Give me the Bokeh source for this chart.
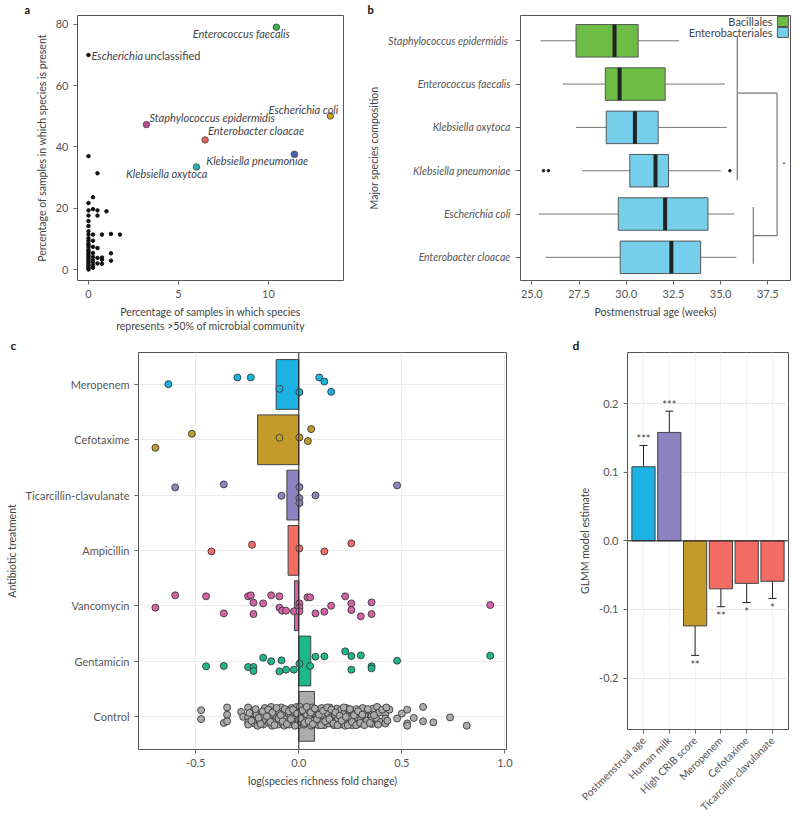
import math
from bokeh.plotting import figure
from bokeh.models import Range1d, FixedTicker, Whisker, Span, TeeHead, ColumnDataSource, NumeralTickFormatter
from bokeh.layouts import row, column
from bokeh.embed import file_html
from bokeh.resources import INLINE
from bokeh.core.properties import value

FONT = "Lato"
TXT = "#444444"

# ---------------- panel a data ----------------
a_species = ["Enterococcus faecalis", "Escherichia coli", "Staphylococcus epidermidis",
             "Enterobacter cloacae", "Klebsiella pneumoniae", "Klebsiella oxytoca"]
a_dominant = [10.44, 13.44, 3.22, 6.48, 11.44, 6.0]
a_present = [79.1, 50.1, 47.3, 42.3, 37.6, 33.5]
a_colors = ["#3fae49", "#c8a22a", "#c0498f", "#e8625d", "#4562b0", "#26b3ad"]
a_lab_align = ["center", "right", "left", "left", "right", "right"]
a_lab_dx = [-35, 8, 3, 3, 14, 11]
a_lab_dy = [6, -7, -7, -9, 6, 7]

other_dominant = [0, 0, 0, 0, 0, 0, 0, 0, 0, 0, 0, 0, 0, 0, 0, 0, 0, 0, 0, 0, 0, 0, 0, 0, 0, 0, 0,
                  0.25, 0.25, 0.25, 0.25, 0.25, 0.25, 0.25, 0.25, 0.25, 0.25, 0.25,
                  0.5, 0.5, 0.5, 0.5, 0.5, 0.5,
                  0.75, 0.75, 0.75, 0.75, 1.0, 1.25, 1.25, 1.25, 1.75]
other_present = [37.0, 21.7, 19.3, 17.6, 15.8, 14.2, 12.5, 11.4, 10.2, 9.4, 8.5, 8.0, 7.4, 6.5, 6.0,
                 5.5, 4.9, 4.4, 3.8, 3.3, 2.7, 2.2, 1.6, 1.1, 0.5, 0.0, 70.0,
                 23.6, 19.7, 11.4, 9.4, 7.4, 5.4, 4.1, 3.0, 2.4, 1.3, 0.55,
                 31.4, 19.3, 17.6, 7.0, 3.8, 2.0,
                 11.4, 3.9, 3.2, 1.9, 19.0, 11.6, 5.3, 2.9, 11.4]

# ---------------- panel b data ----------------
b_species = ["Staphylococcus  epidermidis", "Enterococcus faecalis", "Klebsiella oxytoca",
             "Klebsiella pneumoniae", "Escherichia coli", "Enterobacter cloacae"]
b_order = ["Bacillales", "Bacillales", "Enterobacteriales", "Enterobacteriales",
           "Enterobacteriales", "Enterobacteriales"]
b_low = [25.46, 26.64, 27.34, 27.66, 25.37, 25.72]
b_q1 = [27.34, 28.89, 28.94, 30.19, 29.58, 29.68]
b_med = [29.38, 29.65, 30.46, 31.55, 32.06, 32.39]
b_q3 = [30.63, 32.06, 31.69, 32.24, 34.33, 33.94]
b_high = [32.8, 35.23, 35.32, 35.0, 35.72, 35.83]
b_out_row = [4, 4, 4]
b_out_val = [25.62, 25.88, 35.49]
order_colors = {"Bacillales": "#6dbd45", "Enterobacteriales": "#75cfea"}

# ---------------- panel c data ----------------
c_treat = ["Meropenem", "Cefotaxime", "Ticarcillin-clavulanate", "Ampicillin",
           "Vancomycin", "Gentamicin", "Control"]
c_mean = [-0.11, -0.20, -0.058, -0.052, -0.021, 0.058, 0.076]
c_colors = ["#1bb1e3", "#c39b2b", "#8e82c1", "#f26c64", "#d462a6", "#1db78b", "#ababab"]
mero_x = [-0.633, -0.298, -0.233, -0.094, 0.003, 0.099, 0.124, 0.157]
mero_j = [-0.006, -0.127, -0.127, 0.078, 0.139, -0.127, -0.054, 0.133]
cefo_x = [-0.696, -0.519, -0.094, 0.003, 0.060, 0.044]
cefo_j = [0.145, -0.108, -0.036, -0.042, -0.193, 0.024]
tica_x = [-0.600, -0.364, -0.084, 0.003, 0.003, 0.003, 0.081, 0.477]
tica_j = [-0.139, -0.193, 0.012, -0.145, 0.054, 0.145, 0.006, -0.175]
ampi_x = [-0.424, -0.227, 0.003, 0.124, 0.255]
ampi_j = [0.018, -0.102, -0.036, 0.018, -0.127]
vanc_x = [-0.696, -0.600, -0.450, -0.364, -0.246, -0.233, -0.220, -0.220, -0.173, -0.134,
          -0.094, -0.094, -0.081, -0.062, -0.024, 0.003, 0.003, 0.003, 0.042, 0.055,
          0.081, 0.124, 0.157, 0.225, 0.255, 0.255, 0.301, 0.353, 0.353, 0.929]
vanc_j = [0.036, -0.187, -0.169, 0.139, -0.169, -0.187, -0.054, 0.151, -0.042, -0.187,
          -0.169, 0.036, 0.090, 0.090, 0.102, -0.042, 0.036, 0.102, -0.151, -0.151,
          0.139, 0.108, 0.0, -0.169, -0.042, 0.078, 0.193, -0.060, 0.151, -0.012]
gent_x = [-0.450, -0.364, -0.246, -0.220, -0.220, -0.173, -0.134, -0.094, -0.084, -0.062,
          -0.024, 0.003, 0.055, 0.081, 0.124, 0.225, 0.255, 0.255, 0.301, 0.353, 0.353,
          0.477, 0.929]
gent_j = [0.096, 0.090, 0.108, 0.108, 0.181, -0.060, 0.006, 0.187, -0.012, 0.157,
          0.157, 0.048, 0.090, -0.078, -0.084, -0.175, -0.090, 0.157, -0.102, 0.096, 0.133,
          -0.006, -0.096]
control_pts = [
    (-0.474, -0.11), (-0.474, 0.05), (-0.364, 0.12), (-0.348, -0.16), (-0.348, -0.03), (-0.348, 0.09),
    (-0.28, -0.08), (-0.27, 0.01), (-0.246, -0.16), (-0.246, 0.02), (-0.246, 0.11), (-0.246, 0.15),
    (-0.22, -0.10), (-0.22, 0.06), (-0.215, 0.13), (-0.205, -0.03), (-0.2, 0.17),
    (-0.19, 0.09), (-0.18, -0.05), (-0.173, 0.0), (-0.173, 0.15), (-0.165, -0.15), (-0.16, 0.07),
    (-0.15, -0.09), (-0.145, 0.12), (-0.14, 0.03), (-0.134, -0.17), (-0.13, 0.17), (-0.125, -0.04),
    (-0.12, 0.09), (-0.11, -0.12), (-0.105, 0.02), (-0.1, 0.15), (-0.094, -0.07), (-0.09, 0.06),
    (-0.085, -0.16), (-0.08, 0.12), (-0.075, -0.02), (-0.07, 0.17), (-0.065, 0.05), (-0.06, -0.11),
    (-0.055, 0.10), (-0.05, -0.05), (-0.045, 0.15), (-0.04, 0.01), (-0.035, -0.15), (-0.03, 0.08),
    (-0.024, -0.08), (-0.02, 0.14), (-0.015, 0.03), (-0.01, -0.17), (-0.005, 0.10),
    (0.0, -0.12), (0.0, -0.03), (0.0, 0.06), (0.0, 0.16), (0.005, -0.17), (0.01, 0.11), (0.015, -0.07),
    (0.02, 0.02), (0.025, 0.15), (0.03, -0.14), (0.035, 0.07), (0.04, -0.03), (0.045, 0.12),
    (0.05, -0.10), (0.055, 0.03), (0.06, 0.17), (0.065, -0.16), (0.07, 0.08), (0.075, -0.05),
    (0.08, 0.13), (0.085, -0.12), (0.09, 0.01), (0.095, 0.16), (0.1, -0.08), (0.105, 0.07),
    (0.11, -0.15), (0.115, 0.11), (0.12, -0.02), (0.124, 0.16), (0.13, -0.11), (0.135, 0.05),
    (0.14, -0.06), (0.145, 0.13), (0.15, -0.16), (0.155, 0.02), (0.16, 0.09), (0.165, -0.09),
    (0.17, 0.16), (0.175, -0.03), (0.18, 0.11), (0.185, -0.14), (0.19, 0.05), (0.195, -0.07),
    (0.2, 0.15), (0.205, -0.12), (0.21, 0.02), (0.215, 0.12), (0.22, -0.05), (0.225, 0.17),
    (0.23, -0.15), (0.235, 0.07), (0.24, -0.02), (0.245, 0.13), (0.25, -0.10), (0.255, 0.04),
    (0.26, 0.16), (0.265, -0.07), (0.27, 0.09), (0.28, -0.13), (0.285, 0.02), (0.29, 0.14),
    (0.301, -0.06), (0.301, 0.06), (0.31, -0.15), (0.315, 0.11), (0.32, -0.02), (0.33, 0.08),
    (0.34, -0.10), (0.353, -0.08), (0.353, 0.0), (0.353, 0.07), (0.353, 0.14), (0.36, -0.14),
    (0.375, 0.03), (0.38, -0.17), (0.39, -0.07), (0.40, 0.10), (0.42, -0.04), (0.42, 0.04), (0.42, 0.13),
    (0.44, -0.12), (0.477, 0.04), (0.50, -0.05), (0.526, -0.12), (0.526, 0.13), (0.526, 0.17),
    (0.558, 0.03), (0.603, -0.17), (0.603, 0.09), (0.653, 0.11), (0.734, 0.02), (0.815, 0.17),
    (-0.24, -0.06), (-0.23, 0.08), (-0.21, -0.13), (-0.195, 0.03), (-0.185, 0.14), (-0.175, -0.09),
    (-0.155, 0.0), (-0.148, -0.12), (-0.138, 0.10), (-0.128, -0.07), (-0.118, 0.16), (-0.108, -0.15),
    (-0.098, 0.04), (-0.088, -0.02), (-0.078, 0.09), (-0.068, -0.13), (-0.058, 0.14), (-0.048, -0.09),
    (-0.038, 0.05), (-0.028, -0.12), (-0.018, 0.17), (-0.008, -0.05),
    (0.008, 0.04), (0.018, -0.11), (0.028, 0.12), (0.038, -0.17), (0.048, 0.09), (0.058, -0.07),
    (0.068, 0.14), (0.078, -0.14), (0.088, 0.05), (0.098, -0.03), (0.108, 0.16), (0.118, -0.10),
    (0.128, 0.09), (0.138, -0.16), (0.148, 0.05), (0.158, -0.12), (0.168, 0.13), (0.178, -0.07),
    (0.188, 0.16), (0.198, -0.01), (0.208, 0.08), (0.218, -0.16), (0.228, 0.01), (0.238, 0.16),
    (0.248, -0.13), (0.258, 0.10), (0.268, -0.02), (0.278, 0.16), (0.288, -0.09), (0.298, 0.12),
    (0.308, -0.03), (0.318, 0.16), (0.335, -0.13), (0.345, 0.12), (0.365, -0.02), (0.385, 0.15),
    (0.405, -0.12), (0.425, -0.16), (0.43, 0.08),
]

# ---------------- panel d data ----------------
d_terms = ["Postmenstrual age", "Human milk", "High CRIB score", "Meropenem", "Cefotaxime",
           "Ticarcillin-clavulanate"]
d_est = [0.108, 0.158, -0.124, -0.070, -0.062, -0.059]
d_lo = [0.078, 0.128, -0.167, -0.096, -0.090, -0.084]
d_hi = [0.139, 0.189, -0.082, -0.044, -0.035, -0.034]
d_sig = ["***", "***", "**", "**", "*", "*"]
d_colors = ["#1bb1e3", "#8e82c1", "#c39b2b", "#f26c64", "#f26c64", "#f26c64"]


def base_fig(w, h, xr, yr, bl, br, bt, bb):
    p = figure(width=w, height=h, x_range=xr, y_range=yr, output_backend="svg",
               toolbar_location=None, min_border_left=bl, min_border_right=br,
               min_border_top=bt, min_border_bottom=bb)
    p.outline_line_color = "#555555"
    p.outline_line_width = 1
    p.outline_line_alpha = 1.0
    p.background_fill_color = "white"
    p.border_fill_color = "white"
    for ax in p.axis:
        ax.axis_line_color = None
        ax.major_tick_line_color = "#666666"
        ax.major_tick_out = 4
        ax.major_tick_in = 0
        ax.minor_tick_line_color = None
        ax.major_label_text_font = FONT
        ax.major_label_text_font_size = "11px"
        ax.major_label_text_color = "#555555"
        ax.axis_label_text_font = FONT
        ax.axis_label_text_font_size = "10.5px"
        ax.axis_label_text_font_style = "normal"
        ax.axis_label_text_color = TXT
    return p


def panel_letter(p, t, off, size):
    # panel letter as a left-aligned title, shifted left of the frame
    p.title.text = t
    p.title.align = "left"
    p.title.offset = off
    p.title.standoff = 0
    p.title.text_font = FONT
    p.title.text_font_size = size
    p.title.text_font_style = "bold"
    p.title.text_color = "#111111"


# ================= panel a =================
fa = base_fig(365, 335, Range1d(-0.61, 14.17), Range1d(-3.58, 82.9), 77, 22, 15, 54)
fa.xgrid.visible = False
fa.ygrid.visible = False
fa.xaxis.ticker = FixedTicker(ticks=[0, 5, 10])
fa.yaxis.ticker = FixedTicker(ticks=[0, 20, 40, 60, 80])
fa.xaxis.axis_label = "Percentage of samples in which species\nrepresents >50% of microbial community"
fa.yaxis.axis_label = "Percentage of samples in which species is present"
fa.scatter(other_dominant, other_present, size=3.5, color="#111111")
fa.scatter(a_dominant, a_present, size=6.5, fill_color=a_colors, line_color="#444444", line_width=0.8)
fa.text(a_dominant, a_present, text=a_species, text_align=a_lab_align, x_offset=a_lab_dx,
        y_offset=a_lab_dy, text_baseline="middle", text_font=value(FONT), text_font_size="11px",
        text_font_style="italic", text_color=TXT)
fa.text([0], [70.0], text=["Escherichia"], x_offset=3, text_baseline="middle",
        text_font=value(FONT), text_font_size="11px", text_font_style="italic", text_color=TXT)
fa.text([0], [70.0], text=["unclassified"], x_offset=56, text_baseline="middle",
        text_font=value(FONT), text_font_size="11px", text_color=TXT)
panel_letter(fa, "a", -53, "11px")

# ================= panel b =================
nb = len(b_species)
b_rows = list(range(1, nb + 1))
fb = base_fig(435, 335, Range1d(24.40, 38.70), Range1d(6.535, 0.416), 154, 10, 15, 55)
fb.xgrid.visible = False
fb.ygrid.visible = False
fb.xaxis.ticker = FixedTicker(ticks=[25.0, 27.5, 30.0, 32.5, 35.0, 37.5])
fb.xaxis.formatter = NumeralTickFormatter(format="0.0")
fb.yaxis.ticker = FixedTicker(ticks=b_rows)
fb.yaxis.major_label_overrides = {r: s for r, s in zip(b_rows, b_species)}
fb.yaxis.major_label_text_font_style = "italic"
fb.yaxis.major_label_text_font_size = "10.5px"
fb.yaxis.major_tick_out = 5
fb.xaxis.axis_label = "Postmenstrual age (weeks)"
fb.yaxis.axis_label = "Major species composition"
b_cols = [order_colors[o] for o in b_order]
fb.segment(b_low, b_rows, b_q1, b_rows, line_color="#777777", line_width=1)
fb.segment(b_q3, b_rows, b_high, b_rows, line_color="#777777", line_width=1)
fb.hbar(y=b_rows, left=b_q1, right=b_q3, height=0.75, fill_color=b_cols, line_color="#555555",
        line_width=1)
fb.rect(x=b_med, y=b_rows, width=4, width_units="screen", height=0.75, fill_color="#222222",
        line_color=None)
fb.scatter(b_out_val, b_out_row, size=2.5, color="#111111")
# dendrogram of orders
dl = "#777777"
fb.segment([35.88, 36.73, 35.88, 36.73, 37.99], [0.878, 4.84, 2.21, 5.50, 2.21],
           [35.88, 36.73, 37.99, 37.99, 37.99], [4.22, 6.15, 2.21, 5.50, 5.50],
           line_color=dl, line_width=1.2)
fb.text([38.35], [3.86], text=["*"], text_align="center", text_baseline="middle",
        text_font=value(FONT), text_font_size="8px", text_color=TXT)
# legend
leg_names = list(order_colors.keys())
leg_y = [0.554, 0.808]
fb.text([37.75, 37.75], leg_y, text=leg_names, text_align="right", text_baseline="middle",
        text_font=value(FONT), text_font_size="11px", text_color=TXT)
fb.rect([38.30, 38.30], leg_y, width=11, height=10, width_units="screen", height_units="screen",
        fill_color=[order_colors[k] for k in leg_names], line_color="#555555")
panel_letter(fb, "b", -153, "11px")

# ================= panel c =================
nc = len(c_treat)
c_rows = list(range(nc))
fc = base_fig(560, 491, Range1d(-0.778, 1.008), Range1d(6.60, -0.578), 138, 54, 17, 77)
fc.xaxis.ticker = FixedTicker(ticks=[-0.5, 0.0, 0.5, 1.0])
fc.xaxis.formatter = NumeralTickFormatter(format="0.0")
fc.yaxis.ticker = FixedTicker(ticks=c_rows)
fc.yaxis.major_label_overrides = {r: s for r, s in zip(c_rows, c_treat)}
fc.xgrid.grid_line_color = "#ececec"
fc.ygrid.grid_line_color = "#ececec"
fc.xaxis.axis_label = "log(species richness fold change)"
fc.yaxis.axis_label = "Antibiotic treatment"
fc.hbar(y=c_rows, left=0, right=c_mean, height=0.9, fill_color=c_colors, line_color="#444444",
        line_width=1)
fc.add_layout(Span(location=0, dimension="height", line_color="#222222", line_width=1))
groups = [(mero_x, mero_j), (cefo_x, cefo_j), (tica_x, tica_j), (ampi_x, ampi_j),
          (vanc_x, vanc_j), (gent_x, gent_j),
          ([p[0] for p in control_pts], [p[1] for p in control_pts])]
for i, (gx, gj) in enumerate(groups):
    fc.scatter(gx, [i + j for j in gj], size=7, fill_color=c_colors[i], line_color="#3a3a3a",
               line_width=0.9)
panel_letter(fc, "c", -128, "12px")

# ================= panel d =================
nd = len(d_terms)
d_x = list(range(1, nd + 1))
fd = base_fig(240, 491, Range1d(0.38, 6.62), Range1d(-0.275, 0.2745), 67, 12, 16, 97)
fd.xaxis.ticker = FixedTicker(ticks=d_x)
fd.xaxis.major_label_overrides = {k: s for k, s in zip(d_x, d_terms)}
fd.xaxis.major_label_orientation = math.pi / 4
fd.xaxis.major_label_text_font_size = "10.5px"
fd.yaxis.ticker = FixedTicker(ticks=[-0.2, -0.1, 0.0, 0.1, 0.2])
fd.yaxis.formatter = NumeralTickFormatter(format="0.0")
fd.xgrid.grid_line_color = "#efefef"
fd.ygrid.grid_line_color = "#e8e8e8"
fd.yaxis.axis_label = "GLMM model estimate"
fd.vbar(x=d_x, bottom=0, top=d_est, width=0.9, fill_color=d_colors, line_color="#444444",
        line_width=1)
fd.add_layout(Span(location=0, dimension="width", line_color="#222222", line_width=1))
src_d = ColumnDataSource(dict(x=d_x, lo=d_lo, hi=d_hi))
fd.add_layout(Whisker(source=src_d, base="x", lower="lo", upper="hi", line_color="#222222",
                      line_width=1,
                      upper_head=TeeHead(size=8, line_color="#222222", line_width=1),
                      lower_head=TeeHead(size=8, line_color="#222222", line_width=1)))
sig_y = [h if e > 0 else l for e, h, l in zip(d_est, d_hi, d_lo)]
sig_off = [-7 if e > 0 else 9 for e in d_est]
fd.text(d_x, sig_y, text=d_sig, y_offset=sig_off, text_align="center", text_baseline="middle",
        text_font=value(FONT), text_font_size="11px", text_color=TXT)
panel_letter(fd, "d", -55, "12px")

layout = column(row(fa, fb), row(fc, column(fd)))
open("out.html", "w").write(file_html(layout, INLINE))
